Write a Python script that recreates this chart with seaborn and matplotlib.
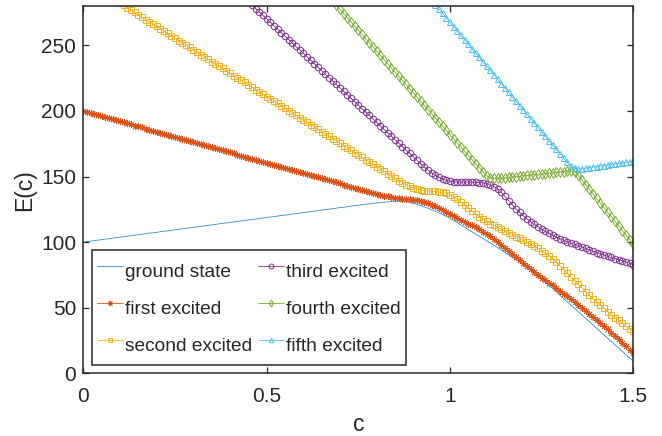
import numpy as np
import matplotlib
matplotlib.use("Agg")
import matplotlib.pyplot as plt
import seaborn as sns

# coupling parameter grid, step 0.01
c = np.linspace(0.0, 1.5, 151)

ground = [
    100.0, 100.4, 100.8, 101.1, 101.5, 101.9, 102.3, 102.6, 103.0, 103.4,
    103.8, 104.1, 104.5, 104.9, 105.3, 105.6, 106.0, 106.4, 106.8, 107.1,
    107.5, 107.9, 108.3, 108.6, 109.0, 109.4, 109.8, 110.1, 110.5, 110.9,
    111.3, 111.6, 112.0, 112.4, 112.8, 113.1, 113.5, 113.9, 114.3, 114.6,
    115.0, 115.4, 115.8, 116.1, 116.5, 116.9, 117.3, 117.6, 118.0, 118.4,
    118.8, 119.1, 119.5, 119.9, 120.3, 120.6, 121.0, 121.4, 121.8, 122.1,
    122.5, 122.9, 123.3, 123.6, 124.0, 124.4, 124.8, 125.1, 125.5, 125.9,
    126.3, 126.6, 127.0, 127.4, 127.8, 128.1, 128.5, 128.9, 129.2, 129.5,
    129.8, 130.1, 130.4, 130.7, 130.9, 131.1, 131.2, 131.1, 130.8, 130.3,
    129.6, 128.8, 127.9, 126.9, 125.8, 124.7, 123.5, 122.3, 121.0, 119.6,
    118.2, 116.5, 114.8, 113.0, 111.3, 109.6, 107.9, 106.2, 104.5, 102.8,
    101.1, 99.4, 97.6, 95.8, 94.0, 92.2, 90.4, 88.6, 86.8, 84.9,
    83.0, 81.0, 78.9, 76.7, 74.5, 72.2, 69.8, 67.3, 64.8, 62.2,
    59.5, 57.0, 54.5, 52.0, 49.4, 46.9, 44.4, 41.9, 39.4, 36.8,
    34.3, 31.8, 29.3, 26.8, 24.2, 21.7, 19.2, 16.7, 14.2, 11.6,
    9.1,
]

first = [
    200.0, 199.2, 198.4, 197.6, 196.8, 196.1, 195.3, 194.5, 193.7, 192.9,
    192.1, 191.3, 190.5, 189.7, 188.9, 188.2, 187.4, 186.6, 185.8, 185.0,
    184.2, 183.4, 182.6, 181.8, 181.0, 180.3, 179.5, 178.7, 177.9, 177.1,
    176.3, 175.5, 174.7, 173.9, 173.1, 172.4, 171.6, 170.8, 170.0, 169.2,
    168.4, 167.6, 166.8, 166.0, 165.2, 164.5, 163.7, 162.9, 162.1, 161.3,
    160.5, 159.7, 158.9, 158.1, 157.3, 156.6, 155.8, 155.0, 154.2, 153.4,
    152.6, 151.8, 151.0, 150.2, 149.4, 148.7, 147.9, 147.1, 146.3, 145.5,
    144.7, 143.9, 143.1, 142.3, 141.5, 140.8, 140.0, 139.2, 138.4, 137.6,
    136.8, 136.1, 135.4, 134.8, 134.2, 133.7, 133.3, 133.0, 132.7, 132.5,
    132.2, 131.9, 131.3, 130.6, 129.7, 128.6, 127.3, 125.9, 124.4, 122.9,
    121.2, 119.7, 118.2, 116.8, 115.5, 114.2, 112.8, 111.3, 109.8, 108.1,
    106.2, 104.3, 102.2, 100.0, 97.8, 95.5, 93.2, 90.9, 88.6, 86.3,
    84.0, 81.7, 79.4, 77.2, 75.0, 73.0, 71.0, 69.0, 67.0, 65.0,
    62.9, 60.8, 58.6, 56.4, 54.2, 52.0, 49.8, 47.6, 45.3, 43.0,
    40.7, 38.3, 35.9, 33.4, 30.9, 28.4, 25.8, 23.2, 20.6, 18.0,
    15.4,
]

second = [
    300.0, 298.2, 296.4, 294.7, 292.9, 291.1, 289.3, 287.5, 285.8, 284.0,
    282.2, 280.4, 278.6, 276.9, 275.1, 273.3, 271.5, 269.7, 268.0, 266.2,
    264.4, 262.6, 260.8, 259.1, 257.3, 255.5, 253.7, 251.9, 250.2, 248.4,
    246.6, 244.8, 243.0, 241.3, 239.5, 237.7, 235.9, 234.1, 232.4, 230.6,
    228.8, 227.0, 225.2, 223.5, 221.7, 219.9, 218.1, 216.3, 214.6, 212.8,
    211.0, 209.2, 207.4, 205.7, 203.9, 202.1, 200.3, 198.5, 196.8, 195.0,
    193.2, 191.4, 189.6, 187.9, 186.1, 184.3, 182.5, 180.7, 179.0, 177.2,
    175.4, 173.6, 171.8, 170.1, 168.3, 166.5, 164.7, 162.9, 161.2, 159.4,
    157.6, 155.8, 154.0, 152.2, 150.4, 148.6, 146.9, 145.3, 143.8, 142.5,
    141.4, 140.5, 139.8, 139.3, 139.0, 138.8, 138.6, 138.3, 137.9, 137.2,
    136.0, 134.5, 132.5, 130.3, 128.0, 125.7, 123.5, 121.4, 119.4, 117.5,
    115.8, 114.2, 112.7, 111.2, 109.8, 108.4, 107.0, 105.6, 104.2, 102.8,
    101.3, 99.8, 98.3, 96.8, 95.2, 93.5, 91.7, 89.7, 87.4, 84.8,
    82.0, 79.1, 76.2, 73.3, 70.5, 67.7, 65.0, 62.3, 59.6, 57.0,
    54.4, 51.9, 49.5, 47.1, 44.8, 42.5, 40.3, 38.1, 36.0, 33.9,
    31.9,
]

third = [
    401.7, 399.1, 396.4, 393.8, 391.2, 388.6, 385.9, 383.3, 380.7, 378.0,
    375.4, 372.8, 370.1, 367.5, 364.9, 362.2, 359.6, 357.0, 354.4, 351.7,
    349.1, 346.5, 343.8, 341.2, 338.6, 335.9, 333.3, 330.7, 328.1, 325.4,
    322.8, 320.2, 317.5, 314.9, 312.3, 309.6, 307.0, 304.4, 301.8, 299.1,
    296.5, 293.9, 291.2, 288.6, 286.0, 283.4, 280.7, 278.1, 275.5, 272.8,
    270.2, 267.6, 264.9, 262.3, 259.7, 257.1, 254.4, 251.8, 249.2, 246.5,
    243.9, 241.3, 238.6, 236.0, 233.4, 230.8, 228.1, 225.5, 222.9, 220.2,
    217.6, 215.0, 212.3, 209.7, 207.1, 204.5, 201.8, 199.2, 196.6, 193.9,
    191.3, 188.7, 186.0, 183.4, 180.8, 178.2, 175.5, 172.9, 170.3, 167.6,
    165.0, 162.4, 159.8, 157.3, 155.0, 152.9, 151.0, 149.4, 148.1, 147.1,
    146.4, 146.0, 145.8, 145.7, 145.7, 145.7, 145.7, 145.6, 145.4, 145.2,
    144.6, 143.7, 142.4, 140.5, 138.0, 134.8, 131.5, 128.3, 125.3, 122.6,
    120.0, 117.7, 115.6, 113.6, 111.7, 109.9, 108.2, 106.7, 105.2, 103.8,
    102.5, 101.3, 100.2, 99.2, 98.2, 97.2, 96.2, 95.2, 94.1, 93.0,
    92.0, 91.0, 90.1, 89.2, 88.3, 87.5, 86.6, 85.8, 84.9, 83.9,
    82.8,
]

fourth = [
    500.0, 496.8, 493.6, 490.5, 487.3, 484.1, 480.9, 477.7, 474.6, 471.4,
    468.2, 465.0, 461.8, 458.7, 455.5, 452.3, 449.1, 445.9, 442.8, 439.6,
    436.4, 433.2, 430.0, 426.9, 423.7, 420.5, 417.3, 414.1, 411.0, 407.8,
    404.6, 401.4, 398.2, 395.1, 391.9, 388.7, 385.5, 382.3, 379.2, 376.0,
    372.8, 369.6, 366.4, 363.3, 360.1, 356.9, 353.7, 350.5, 347.4, 344.2,
    341.0, 337.8, 334.6, 331.5, 328.3, 325.1, 321.9, 318.7, 315.6, 312.4,
    309.2, 306.0, 302.8, 299.7, 296.5, 293.3, 290.1, 286.9, 283.8, 280.6,
    277.4, 274.2, 271.0, 267.9, 264.7, 261.5, 258.3, 255.1, 252.0, 248.8,
    245.6, 242.4, 239.2, 236.1, 232.9, 229.7, 226.5, 223.3, 220.2, 217.0,
    213.8, 210.6, 207.4, 204.3, 201.1, 197.9, 194.7, 191.5, 188.4, 185.2,
    182.0, 178.8, 175.6, 172.5, 169.3, 166.1, 162.9, 159.8, 156.7, 153.6,
    150.6, 149.0, 148.6, 148.6, 148.8, 149.0, 149.3, 149.6, 149.9, 150.2,
    150.5, 150.8, 151.1, 151.4, 151.7, 152.0, 152.3, 152.6, 152.9, 153.2,
    153.5, 153.8, 154.2, 154.4, 153.6, 151.0, 147.2, 143.8, 140.3, 136.8,
    133.3, 129.8, 126.3, 122.8, 119.3, 115.8, 112.3, 108.8, 105.3, 101.8,
    98.3,
]

fifth = [
    601.6, 598.3, 594.9, 591.6, 588.2, 584.9, 581.6, 578.2, 574.9, 571.5,
    568.2, 564.9, 561.5, 558.2, 554.8, 551.5, 548.2, 544.8, 541.5, 538.1,
    534.8, 531.5, 528.1, 524.8, 521.4, 518.1, 514.8, 511.4, 508.1, 504.7,
    501.4, 498.1, 494.7, 491.4, 488.0, 484.7, 481.4, 478.0, 474.7, 471.3,
    468.0, 464.7, 461.3, 458.0, 454.6, 451.3, 448.0, 444.6, 441.3, 437.9,
    434.6, 431.3, 427.9, 424.6, 421.2, 417.9, 414.6, 411.2, 407.9, 404.5,
    401.2, 397.9, 394.5, 391.2, 387.8, 384.5, 381.2, 377.8, 374.5, 371.1,
    367.8, 364.5, 361.1, 357.8, 354.4, 351.1, 347.8, 344.4, 341.1, 337.7,
    334.4, 331.1, 327.7, 324.4, 321.0, 317.7, 314.4, 311.0, 307.7, 304.3,
    301.0, 297.7, 294.3, 291.0, 287.6, 284.3, 281.0, 277.6, 274.3, 270.9,
    267.6, 264.3, 260.9, 257.6, 254.2, 250.9, 247.6, 244.2, 240.9, 237.5,
    234.2, 230.9, 227.5, 224.2, 220.8, 217.5, 214.2, 210.8, 207.5, 204.1,
    200.8, 197.5, 194.1, 190.8, 187.4, 184.1, 180.8, 177.4, 174.1, 170.7,
    167.4, 164.1, 160.8, 158.0, 156.3, 155.8, 156.0, 156.4, 156.8, 157.2,
    157.6, 158.0, 158.4, 158.8, 159.2, 159.6, 160.0, 160.4, 160.8, 161.2,
    161.6,
]

labels = ["ground state", "first excited", "second excited",
          "third excited", "fourth excited", "fifth excited"]
colors = ["#0072BD", "#D95319", "#EDB120", "#7E2F8E", "#77AC30", "#4DBEEE"]
markers = [None, (8, 2, 0), "s", "o", "d", "^"]
msizes = [0, 5.0, 3.9, 4.7, 4.7, 4.4]
series = [ground, first, second, third, fourth, fifth]

sns.set_theme(style="white")
plt.rcParams["font.family"] = ["Liberation Sans", "DejaVu Sans"]
plt.rcParams["axes.edgecolor"] = "#262626"

fig = plt.figure(figsize=(6.62, 4.36), dpi=100)
ax = fig.add_axes([0.1258, 0.1438, 0.8309, 0.8424])

for vals, lab, col, mk, ms in zip(series, labels, colors, markers, msizes):
    kw = dict(x=c, y=vals, ax=ax, color=col, label=lab, linewidth=0.6,
              sort=False, estimator=None)
    if mk is not None:
        kw.update(marker=mk, markersize=ms, markerfacecolor="none",
                  markeredgecolor=col, markeredgewidth=0.7)
    else:
        kw.update(linewidth=0.6, alpha=0.8)
    sns.lineplot(**kw)

ax.set_xlim(0, 1.5)
ax.set_ylim(0, 280)
ax.set_xticks([0, 0.5, 1, 1.5])
ax.set_xticklabels(["0", "0.5", "1", "1.5"])
ax.set_yticks([0, 50, 100, 150, 200, 250])
ax.tick_params(direction="in", length=4, width=0.9, colors="#262626",
               labelsize=15, top=True, right=True, bottom=True, left=True,
               labelcolor="#262626")
ax.tick_params(axis="x", pad=10)
ax.tick_params(axis="y", pad=5)
for sp in ax.spines.values():
    sp.set_visible(True)
    sp.set_linewidth(1.1)
    sp.set_color("#262626")

ax.set_xlabel("c", fontsize=16.5, color="#262626", labelpad=5)
ax.set_ylabel("E(c)", fontsize=16.5, color="#262626", labelpad=4)

leg = ax.legend(loc="upper left", bbox_to_anchor=(0.0153, 0.3357),
                borderaxespad=0, ncol=2, fontsize=13.75, frameon=True,
                fancybox=False, edgecolor="#262626", framealpha=1,
                handlelength=1.35, handleheight=2.0, handletextpad=0.1,
                columnspacing=0.3, labelspacing=0.4, borderpad=0.3,
                markerscale=0.75)
leg.get_frame().set_linewidth(1.1)

fig.savefig("out.png", dpi=100)
